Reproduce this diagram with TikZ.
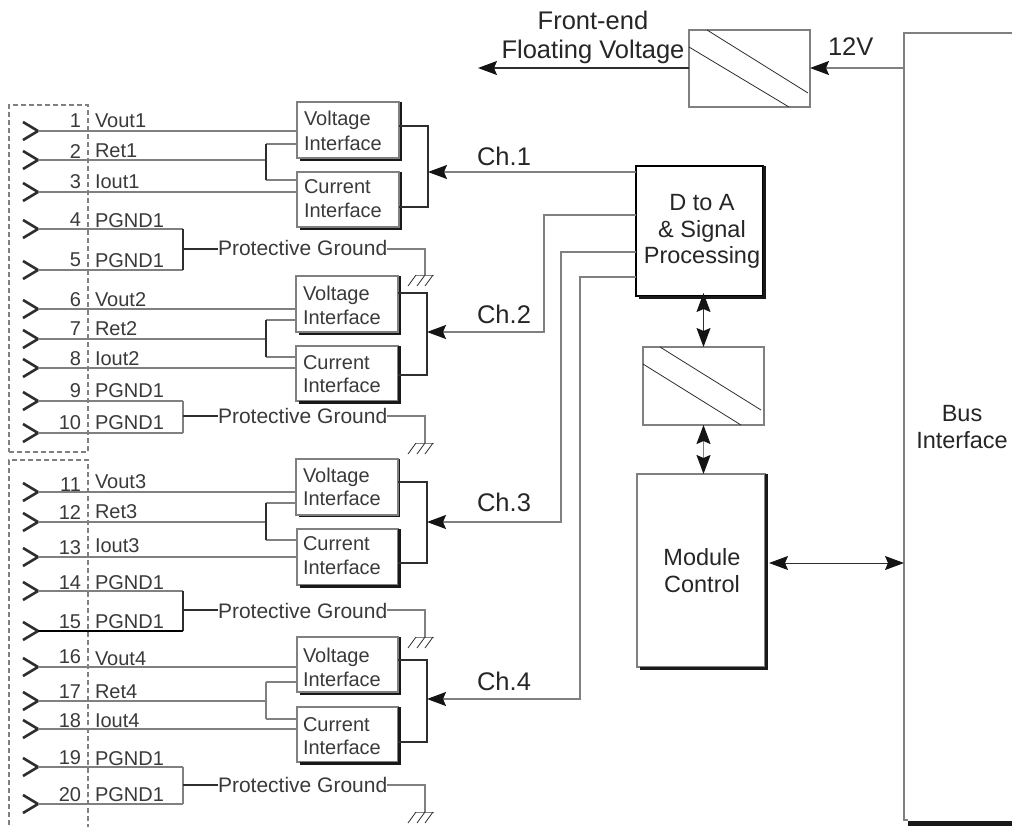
\documentclass[tikz,border=0pt]{standalone}
\usepackage{fontspec}
\setmainfont{Liberation Sans}
\usetikzlibrary{arrows.meta,calc}
\definecolor{wireg}{HTML}{808080}
\definecolor{wired}{HTML}{2E2E2E}
\definecolor{txtg}{HTML}{3A3A3A}
\definecolor{tipk}{HTML}{141414}
\tikzset{
  wire/.style={draw=wireg,line width=1.5pt},
  wiredk/.style={draw=wired,line width=1.6pt},
  fine/.style={draw=wired,line width=0.8pt},
  tipa/.tip={Stealth[length=19pt,width=14pt,inset=3pt,color=tipk]},
  sharp/.style={-tipa},
  both/.style={tipa-tipa},
  frame/.style={draw=wireg,line width=1.4pt,inner sep=0pt,outer sep=0pt,fill=white},
  conn/.style={draw=wireg,line width=1.2pt,dashed,dash pattern=on 5pt off 3pt,inner sep=0pt,outer sep=0pt},
  chev/.style={draw=wired,line width=2.6pt,miter limit=4},
  lab/.style={inner sep=0pt,outer sep=0pt,anchor=base west,text=txtg,font=\fontsize{20}{24}\selectfont},
  num/.style={inner sep=0pt,outer sep=0pt,anchor=base east,text=txtg,font=\fontsize{20}{24}\selectfont},
  pg/.style={inner sep=0pt,outer sep=0pt,anchor=base west,text=txtg,font=\fontsize{21}{25}\selectfont},
  big/.style={inner sep=0pt,outer sep=0pt,anchor=base,text=black!85,font=\fontsize{23.5}{28}\selectfont},
  huge/.style={inner sep=0pt,outer sep=0pt,anchor=base,text=black!85,font=\fontsize{25.5}{30}\selectfont},
}
\newcommand{\mybox}[6][frame]{%
  \pgfmathsetmacro\myw{#5-#3}\pgfmathsetmacro\myh{#6-#4}%
  \node[#1,minimum width=\myw pt,minimum height=\myh pt] (#2) at ({(#3+#5)/2},{(#4+#6)/2}) {};}
\newcommand{\shad}[2]{%
  \draw[draw=black!90,line width=#2pt] ([shift={(1.5,0)}]#1.north east) -- ([shift={(1.5,1.5)}]#1.south east) -- ([shift={(3,1.5)}]#1.south west);}
\newcommand{\gnd}[1]{%
  \draw[fine,draw=wireg] ([xshift=-10pt]#1) -- ([xshift=9pt]#1);
  \foreach \dx in {-9,0,8} \draw[fine] ([xshift=\dx pt]#1) -- ([shift={(\dx-8,11)}]#1);}
\begin{document}
\begin{tikzpicture}[x=1pt,y=-1pt]
\useasboundingbox (0,0) rectangle (1012,827);
% connector frames
\mybox[conn]{cn1}{9}{105}{88}{452}
\mybox[conn]{cn2}{9}{460}{88}{830}
% pins
\foreach \n/\y in {1/131,2/160,3/192,4/229,5/270,6/309,7/339,8/368,9/401,10/433,11/492,12/522,13/557,14/591,15/631,16/667,17/701,18/729,19/767,20/804}{
  \coordinate (p\n) at (38,\y);
  \draw[chev] ([shift={(-15,-9)}]p\n) -- (p\n) -- ([shift={(-15,9)}]p\n);
}
% pin numbers and names
\foreach \n/\y/\t/\ty in {1/127/Vout1/127,2/158/Ret1/157,3/188/Iout1/188,4/226/PGND1/227,5/266/PGND1/267,
  6/306/Vout2/306,7/335/Ret2/335,8/365/Iout2/365,9/397/PGND1/397,10/429/PGND1/429,
  11/491/Vout3/488,12/519/Ret3/518,13/554/Iout3/552,14/589/PGND1/589,15/628/PGND1/628,
  16/663/Vout4/665,17/698/Ret4/698,18/727/Iout4/727,19/764/PGND1/765,20/801/PGND1/801}{
  \node[num] (n\n) at (81,\y) {\n};
  \node[lab] (l\n) at (95,\ty) {\t};
}
% interface blocks
\mybox{v1}{297}{102}{399}{158}
\mybox{c1}{297}{172}{399}{227}
\mybox{v2}{296}{276}{398}{332}
\mybox{c2}{296}{346}{398}{401}
\mybox{v3}{296}{459}{398}{515}
\mybox{c3}{297}{529}{398}{585}
\mybox{v4}{297}{637}{398}{692}
\mybox{c4}{297}{707}{398}{762}
\shad{v1}{2}\shad{c1}{2}\shad{v2}{2}\shad{c2}{2.4}\shad{v3}{1.6}\shad{c3}{3}\shad{v4}{2}\shad{c4}{2.4}
\foreach \x/\a/\b/\aa/\bb in {304/125/150/193/217,303/300/324/369/392,303/482/505/550/574,303/662/686/731/754}{
  \node[lab] at (\x,\a) {Voltage};
  \node[lab] at (\x,\b) {Interface};
  \node[lab] at (\x,\aa) {Current};
  \node[lab] at (\x,\bb) {Interface};
}
% pin wires
\foreach \p/\b in {1/v1,3/c1,6/v2,8/c2,11/v3,13/c3,16/v4,18/c4}{
  \draw[wire] (p\p) -- (p\p -| \b.west);
}
% return branches
\foreach \p/\v/\c/\t/\bb/\st in {2/v1/c1/144/180/wiredk,7/v2/c2/320/357/wiredk,12/v3/c3/503/540/wiredk,17/v4/c4/682/719/wire}{
  \coordinate (bt\p) at (266,\t);
  \coordinate (bb\p) at (266,\bb);
  \draw[wire] (p\p) -- (bt\p |- p\p);
  \draw[wire] (\v.west |- bt\p) -- (bt\p);
  \draw[wire] (\c.west |- bb\p) -- (bb\p);
  \draw[\st] (bt\p) -- (bb\p);
}
% collectors
\foreach \v/\c/\x/\vy/\cy/\ay/\s in {v1/c1/428/126/207/172/1,v2/c2/427/293/375/332/2,v3/c3/427/482/563/522/3,v4/c4/427/660/742/699/4}{
  \coordinate (co\s) at (\x,\ay);
  \coordinate (cv\s) at (\x,\vy);
  \coordinate (cc\s) at (\x,\cy);
  \draw[wiredk] (\v.east |- cv\s) -- (cv\s) -- (cc\s) -- (\c.east |- cc\s);
}
% PGND groups and protective ground
\foreach \s/\a/\b/\y/\ty/\gy/\st in {1/4/5/249/255/275/wiredk,2/9/10/416/423/443/wire,3/14/15/610/618/637/wiredk,4/19/20/785/792/812/wire}{
  \coordinate (j\s) at (183,\y);
  \coordinate (g\s) at (425,\gy);
  \node[pg] (pg\s) at (218,\ty) {Protective Ground};
  \draw[wire] (p\a) -- (p\a -| j\s);
  \draw[wire] (p\b) -- (p\b -| j\s);
  \draw[\st] (p\a -| j\s) -- (p\b -| j\s);
  \draw[wiredk] (j\s) -- (j\s -| pg\s.west);
  \draw[wire] (pg\s.east |- j\s) -| (g\s);
  \gnd{g\s}
}
\draw[draw=black,line width=2.4pt] (p15) -- (p15 -| j3);
% main blocks
\mybox{dsp}{636}{166}{763}{296}
\mybox{mod}{637}{474}{765}{667}
\mybox{cv1}{689}{30}{810}{107}
\mybox{cv2}{643}{347}{764}{425}
\draw[draw=black,line width=1.6pt] (dsp.north west) rectangle (dsp.south east);
\shad{dsp}{3.2}\shad{mod}{3.6}
\draw[fine] (707,30) -- (808,93);
\draw[fine] (689,47) -- (789,107);
\draw[fine] (660,347) -- (761,410);
\draw[fine] (643,364) -- (741,425);
\node[big] at (702,210) {D to A};
\node[big] at (702,237) {\&{} Signal};
\node[big] at (702,263) {Processing};
\node[big] at (702,565) {Module};
\node[big] at (702,592) {Control};
\node[big] at (962,421) {Bus};
\node[big] at (962,448) {Interface};
% bus interface (open at the page edge)
\coordinate (bustl) at (904,33);
\coordinate (busbl) at (904,820);
\coordinate (bustr) at (1012,33);
\coordinate (busbr) at (1012,823.5);
\draw[wire] (bustr) -- (bustl) -- (busbl) -- ([xshift=4pt]busbl);
\draw[draw=black!90,line width=5pt] ([xshift=4pt]busbl |- busbr) -- (busbr);
% channel lines
\coordinate (ch2) at (544,332);
\coordinate (ch3) at (561,522);
\coordinate (ch4) at (580,699);
\draw[wire,sharp] (dsp.west |- co1) -- (co1);
\draw[wire,sharp] (dsp.west |- 600,215) -| (ch2) -- (co2);
\draw[wire,sharp] (dsp.west |- 600,252) -| (ch3) -- (co3);
\draw[wire,sharp] (dsp.west |- 600,277) -| (ch4) -- (co4);
\node[huge] at (504,165) {Ch.1};
\node[huge] at (504,323) {Ch.2};
\node[huge] at (504,511) {Ch.3};
\node[huge] at (504,690) {Ch.4};
% power
\coordinate (fv) at (478,68);
\draw[wired,line width=1.3pt,sharp] (cv1.west |- fv) -- (fv);
\draw[wire,sharp] (bustl |- fv) -- (cv1.east |- fv);
\node[huge] at (593,29) {Front-end};
\node[huge] at (593,58) {Floating Voltage};
\node[huge,anchor=base west] at (828,55) {12V};
% vertical links
\draw[wired,line width=1.2pt,both] ([yshift=3pt]dsp.south -| cv2.north) -- (cv2.north);
\draw[wire,both] (cv2.south) -- (cv2.south |- mod.north);
\coordinate (mr) at (769,563);
\draw[wired,line width=1pt,both] (mr) -- (bustl |- mr);
\end{tikzpicture}
\end{document}
